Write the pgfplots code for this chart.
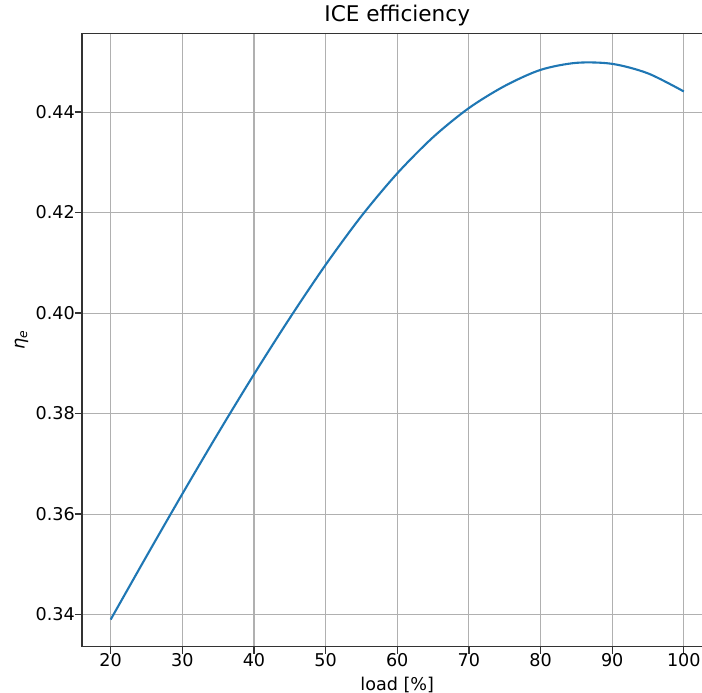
\documentclass[border=0pt]{standalone}
\usepackage{fontspec}
\setmainfont{DejaVu Sans}
\usepackage{pgfplots}
\pgfplotsset{compat=1.18}
\definecolor{mplblue}{HTML}{1F77B4}
\definecolor{gridgray}{HTML}{B0B0B0}
\begin{document}
\begin{tikzpicture}
\begin{axis}[
  at={(82pt,-646.7pt)}, anchor=south west,
  scale only axis, width=630.5pt, height=613pt,
  xmin=16, xmax=104, ymin=0.3336, ymax=0.4556,
  xtick={20,30,40,50,60,70,80,90,100},
  xticklabels={20,30,40,50,60,70,80,90,100},
  ytick={0.34,0.36,0.38,0.40,0.42,0.44},
  yticklabels={0.34,0.36,0.38,0.40,0.42,0.44},
  tick pos=left, tick align=outside,
  major tick length=7pt,
  every tick/.style={black!80, line width=1.2pt},
  grid=major, grid style={gridgray, line width=1.1pt},
  axis line style={black!80, line width=1.4pt},
  xticklabel style={font=\fontsize{17.6}{21}\selectfont, anchor=north, inner sep=0pt},
  yticklabel style={font=\fontsize{17.6}{21}\selectfont, anchor=east, inner sep=0pt},
  title={ICE efficiency},
  title style={font=\fontsize{21.6}{25}\selectfont, at={(axis description cs:0.5,1)}, anchor=base, yshift=6pt},
  xlabel={load [\%]},
  ylabel={\textit{η}\textsubscript{\textit{e}}},
  every axis x label/.style={font=\fontsize{17.6}{21}\selectfont, at={(axis description cs:0.5,0)}, anchor=base, yshift=-43.5pt},
  every axis y label/.style={font=\fontsize{17.6}{21}\selectfont, at={(axis description cs:-0.0959,0.5)}, anchor=center, rotate=90},
]
\addplot[mplblue, line width=2.1pt, smooth] coordinates {
(20,0.3390) (25,0.3516) (30,0.3640) (35,0.3761) (40,0.3878) (45,0.3990)
(50,0.4096) (55,0.4193) (60,0.4278) (65,0.4350) (70,0.4408) (75,0.4452)
(80,0.4484) (85,0.4498) (90,0.4496) (95,0.4477) (100,0.4441)
};
\end{axis}
\pgfresetboundingbox
\path[use as bounding box] (0pt,-693pt) rectangle (702pt,0pt);
\end{tikzpicture}
\end{document}
